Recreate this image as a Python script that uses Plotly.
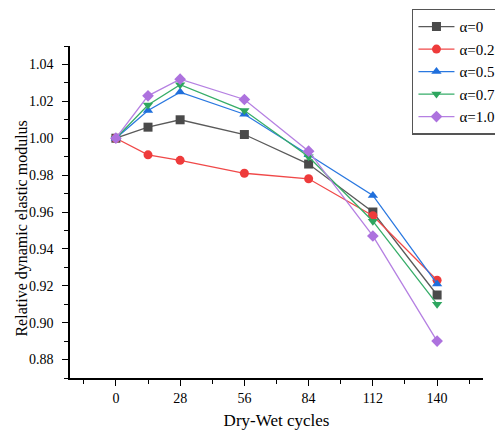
import plotly.graph_objects as go

cycles = [0, 14, 28, 56, 84, 112, 140]
tick_vals = [0, 28, 56, 84, 112, 140]
names = ["α=0", "α=0.25", "α=0.5", "α=0.75", "α=1.0"]
a0 = [1.000, 1.006, 1.010, 1.002, 0.986, 0.960, 0.915]
a025 = [1.000, 0.991, 0.988, 0.981, 0.978, 0.958, 0.923]
a05 = [1.000, 1.015, 1.025, 1.013, 0.991, 0.969, 0.921]
a075 = [1.000, 1.018, 1.029, 1.015, 0.990, 0.955, 0.910]
a10 = [1.000, 1.023, 1.032, 1.021, 0.993, 0.947, 0.890]

series = [a0, a025, a05, a075, a10]
marker_colors = ["#4a4a4a", "#ee3b3b", "#1f6fdc", "#2ea65f", "#ad72de"]
line_colors = ["#5a5a5a", "#f04848", "#2a78e0", "#36ad68", "#b580e2"]
symbols = ["square", "circle", "triangle-up", "triangle-down", "diamond"]

fig = go.Figure()
for n, ys, mc, lc, sym in zip(names, series, marker_colors, line_colors, symbols):
    fig.add_trace(go.Scatter(
        x=cycles, y=ys, name=n, mode="lines+markers",
        line=dict(color=lc, width=1.3),
        marker=dict(symbol=sym, size=9, color=mc),
    ))

font = "Liberation Serif, Times New Roman, serif"
fig.update_layout(
    width=503, height=432,
    margin=dict(l=62, r=28, t=38, b=62, autoexpand=False),
    paper_bgcolor="white", plot_bgcolor="white",
    font=dict(family=font, color="black", size=14),
    showlegend=True,
    legend=dict(
        x=0.828, y=1.112, xanchor="left", yanchor="top",
        bordercolor="#555555", borderwidth=1.5,
        font=dict(family=font, size=15),
        tracegroupgap=0, itemwidth=36,
    ),
    xaxis=dict(
        range=[-20, 160], tickvals=tick_vals,
        showline=True, linecolor="black", linewidth=1.5,
        ticks="outside", ticklen=6, tickwidth=1.2, tickcolor="black",
        minor=dict(tickvals=[-14, 14, 42, 70, 98, 126, 154], ticks="outside", ticklen=4, tickwidth=1.2, tickcolor="black"),
        showgrid=False, zeroline=False,
        tickfont=dict(family=font, size=14),
        title=dict(text="Dry-Wet cycles", font=dict(family=font, size=17), standoff=10),
    ),
    yaxis=dict(
        range=[0.87, 1.05], tickvals=[0.88, 0.90, 0.92, 0.94, 0.96, 0.98, 1.00, 1.02, 1.04],
        tickformat=".2f",
        showline=True, linecolor="black", linewidth=1.5,
        ticks="outside", ticklen=6, tickwidth=1.2, tickcolor="black",
        minor=dict(dtick=0.01, ticks="outside", ticklen=4, tickwidth=1.2, tickcolor="black"),
        showgrid=False, zeroline=False,
        ticklabelstandoff=6,
        tickfont=dict(family=font, size=14),
    ),
    annotations=[dict(
        text="Relative dynamic elastic modulus", textangle=-90,
        xref="paper", yref="paper", x=-0.1163, y=0.45,
        xanchor="center", yanchor="middle", showarrow=False,
        font=dict(family=font, size=16, color="black"),
    )],
)

fig.write_html("out.html")
